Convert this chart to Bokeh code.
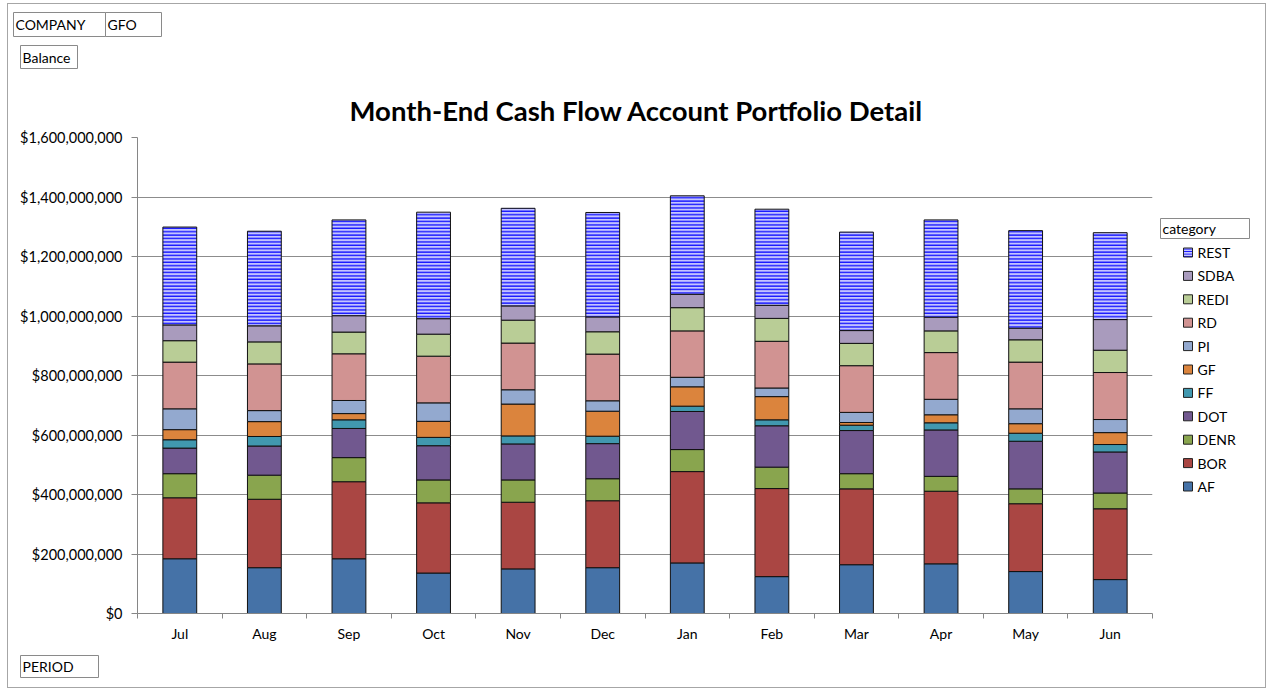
from bokeh.plotting import figure
from bokeh.models import ColumnDataSource, FixedTicker, NumeralTickFormatter, Range1d
from bokeh.layouts import column, row
from bokeh.core.properties import value
from bokeh.embed import file_html
from bokeh.resources import INLINE

# ---------------- data (values in millions of dollars) ----------------
months = ["Jul", "Aug", "Sep", "Oct", "Nov", "Dec", "Jan", "Feb", "Mar", "Apr", "May", "Jun"]
categories = ["AF", "BOR", "DENR", "DOT", "FF", "GF", "PI", "RD", "REDI", "SDBA", "REST"]
AF   = [184, 154, 184, 136, 150, 154, 170, 124, 164, 167, 141, 114]
BOR  = [205, 230, 259, 236, 224, 225, 307, 296, 255, 244, 228, 238]
DENR = [81, 81, 81, 77, 75, 74, 74, 72, 51, 50, 50, 53]
DOT  = [86, 98, 98, 115, 121, 118, 128, 139, 145, 156, 160, 138]
FF   = [28, 32, 29, 28, 27, 25, 18, 20, 18, 24, 27, 25]
GF   = [34, 50, 21, 54, 107, 84, 65, 78, 9, 27, 32, 40]
PI   = [70, 37, 44, 62, 48, 35, 32, 29, 34, 52, 50, 44]
RD   = [157, 157, 157, 157, 157, 157, 156, 157, 157, 157, 157, 158]
REDI = [72, 74, 73, 74, 77, 75, 78, 77, 75, 73, 75, 75]
SDBA = [53, 54, 55, 52, 48, 50, 45, 44, 43, 46, 39, 103]
REST = [329, 318, 322, 358, 328, 351, 331, 323, 331, 327, 328, 292]
y_ticks = [0, 200e6, 400e6, 600e6, 800e6, 1000e6, 1200e6, 1400e6, 1600e6]
title_text = "Month-End Cash Flow Account Portfolio Detail"
legend_title = "category"

colors = ["#4572A7", "#AA4643", "#89A54E", "#71588F", "#4198AF", "#DB843D",
          "#93A9CF", "#D19392", "#B9CD96", "#A99BBD", "#C4C4FF"]
REST_HATCH = "#0a0aff"
BOX_LINE = "#8a8a8a"
FONT = "Lato"

series = [AF, BOR, DENR, DOT, FF, GF, PI, RD, REDI, SDBA, REST]
centers = [i + 0.5 for i in range(len(months))]
data = {"x": centers}
for name, vals in zip(categories, series):
    data[name] = [v * 1e6 for v in vals]
source = ColumnDataSource(data)


def blank(width, height, x0, y0, top=0, bottom=0):
    """A figure whose frame maps data coords 1:1 onto page pixels."""
    f = figure(width=width, height=height,
               x_range=Range1d(x0, x0 + width),
               y_range=Range1d(y0 + height - bottom, y0 + top),
               output_backend="svg", toolbar_location=None,
               x_axis_location=None, y_axis_location=None,
               min_border=0, min_border_left=0, min_border_right=0,
               min_border_top=top, min_border_bottom=bottom)
    f.grid.visible = False
    f.outline_line_color = None
    f.background_fill_color = "white"
    f.border_fill_color = "white"
    return f


def boxes(f, lefts, rights, tops, bottoms):
    f.quad(left=lefts, right=rights, top=tops, bottom=bottoms,
           fill_color="white", line_color=BOX_LINE, line_width=1)


def texts(f, xs, ys, txt, size="14px", **kw):
    f.text(x=xs, y=ys, text=txt, text_font=value(FONT), text_font_size=size,
           text_baseline="middle", text_color="black", **kw)


# content area starts at page (8, 4); total 1257 x 683
X0, Y0 = 8, 4
W = 1257

# ---------------- header ----------------
header = blank(W, 123, X0, Y0)
boxes(header, [13, 105, 20], [105, 161, 77], [12, 12, 45], [36, 36, 68])
texts(header, [15, 107, 22], [24, 24, 56.5], ["COMPANY", "GFO", "Balance"])
header.text(x=[636], y=[110], text=[title_text], text_font=value(FONT),
            text_font_size="27.5px", text_font_style="bold", text_align="center",
            text_baseline="alphabetic", text_color="black")

# ---------------- main chart ----------------
p = figure(width=1147, height=523,
           x_range=Range1d(0, len(months)), y_range=Range1d(0, 1.6e9),
           output_backend="svg", toolbar_location=None,
           min_border_left=129, min_border_right=3,
           min_border_top=10, min_border_bottom=37)
p.outline_line_color = None
p.background_fill_color = "white"
p.border_fill_color = "white"

n = len(categories)
renderers = p.vbar_stack(categories, x="x", width=0.4, source=source,
                         fill_color=colors,
                         line_color=["#111111"] * n, line_width=[1] * n,
                         hatch_pattern=[" "] * (n - 1) + ["horizontal_line"],
                         hatch_color=["#ffffff"] * (n - 1) + [REST_HATCH],
                         hatch_scale=[3.4] * n, hatch_weight=[1.3] * n)

p.xgrid.visible = False
p.yaxis.ticker = FixedTicker(ticks=y_ticks)
p.ygrid.grid_line_color = "#8c8c8c"
p.ygrid.grid_line_width = 1
p.yaxis.formatter = NumeralTickFormatter(format="$0,0")
p.yaxis.major_tick_out = 6
p.yaxis.major_tick_in = 0
p.yaxis.minor_tick_line_color = None
p.yaxis.axis_line_color = "#868686"
p.yaxis.major_tick_line_color = "#868686"
p.yaxis.major_label_text_font = FONT
p.yaxis.major_label_text_font_size = "14.5px"
p.yaxis.major_label_text_color = "black"
p.yaxis.major_label_standoff = 9

p.xaxis.ticker = FixedTicker(ticks=centers, minor_ticks=list(range(len(months) + 1)))
p.xaxis.major_label_overrides = {c: m for c, m in zip(centers, months)}
p.xaxis.major_tick_out = 0
p.xaxis.major_tick_in = 0
p.xaxis.minor_tick_out = 5
p.xaxis.minor_tick_in = 0
p.xaxis.minor_tick_line_color = "#868686"
p.xaxis.axis_line_color = "#868686"
p.xaxis.major_label_text_font = FONT
p.xaxis.major_label_text_font_size = "14px"
p.xaxis.major_label_text_color = "black"
p.xaxis.major_label_standoff = 6

# ---------------- legend panel (frame aligned with the main chart frame) ----------------
leg = blank(110, 523, 1155, 127, top=10, bottom=37)
boxes(leg, [1160], [1249], [218], [238])
texts(leg, [1162], [228], [legend_title])
order = categories[::-1]
col_of = dict(zip(categories, colors))
ys = [252 + i * 23.4 for i in range(len(order))]
leg_src = ColumnDataSource(dict(
    x=[1187.5] * len(order), y=ys, label=order,
    color=[col_of[c] for c in order],
    hatch=["horizontal_line" if c == "REST" else " " for c in order]))
leg.rect(x="x", y="y", width=9, height=9, source=leg_src, fill_color="color",
         line_color="#222222", line_width=1, hatch_pattern="hatch",
         hatch_color=REST_HATCH, hatch_scale=2.5, hatch_weight=1.2)
leg.text(x=1197, y="y", text="label", source=leg_src, text_font=value(FONT),
         text_font_size="14px", text_baseline="middle", text_color="black")

# ---------------- footer ----------------
footer = blank(W, 37, X0, 650)
boxes(footer, [20], [98], [655], [677])
texts(footer, [22], [666], ["PERIOD"])

layout = column(header, row(p, leg), footer,
                styles={"border": "1px solid #a6a6a6"}, margin=(3, 0, 0, 7))

open("out.html", "w").write(file_html(layout, INLINE))
